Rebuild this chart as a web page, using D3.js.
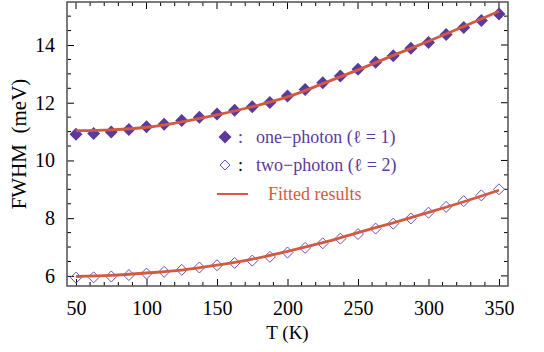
<!DOCTYPE html>
<html>
<head>
<meta charset="utf-8">
<script src="https://cdn.jsdelivr.net/npm/d3@7"></script>
<style>
  body { margin: 0; background: #fff; }
  svg text { font-family: "Liberation Serif", "Times New Roman", "DejaVu Serif", serif !important; }
</style>
</head>
<body>
<svg width="544" height="352"></svg>
<script>
// temperatures (K)
const temps = [50, 62.5, 75, 87.5, 100, 112.5, 125, 137.5, 150, 162.5, 175, 187.5, 200,
  212.5, 225, 237.5, 250, 262.5, 275, 287.5, 300, 312.5, 325, 337.5, 350]
// FWHM (meV)
const onePhoton = [10.91, 10.93, 10.99, 11.07, 11.17, 11.25, 11.38, 11.50, 11.61, 11.74, 11.86, 12.01, 12.23,
  12.46, 12.69, 12.93, 13.16, 13.40, 13.63, 13.89, 14.09, 14.36, 14.61, 14.85, 15.07]
const twoPhoton = [5.94, 5.95, 5.98, 6.03, 6.08, 6.14, 6.21, 6.29, 6.37, 6.45, 6.53, 6.66, 6.81,
  6.97, 7.13, 7.29, 7.45, 7.64, 7.81, 7.99, 8.19, 8.39, 8.59, 8.79, 9.00]
// fitted curves, read every 25 K
const fitTemps = [50, 75, 100, 125, 150, 175, 200, 225, 250, 275, 300, 325, 350]
const fitOne = [11.03, 11.06, 11.15, 11.34, 11.58, 11.86, 12.2, 12.66, 13.14, 13.64, 14.13, 14.64, 15.17]
const fitTwo = [5.98, 6.02, 6.1, 6.2, 6.37, 6.58, 6.85, 7.15, 7.5, 7.84, 8.2, 8.57, 8.97]

const xTicks = [50, 100, 150, 200, 250, 300, 350]
const yTicks = [6, 8, 10, 12, 14]

const width = 544
const height = 352
const margin = {top: 2, right: 36, bottom: 66, left: 67}

const purple = '#5b3a9c'
const openPurple = '#6a4cc4'
const fitColor = '#d45a3f'
const frameColor = '#5a5a5a'

const svg = d3.select('svg')

const x = d3.scaleLinear()
  .domain([43.6, 356.4])
  .range([margin.left, width - margin.right])

const y = d3.scaleLinear()
  .domain([5.65, 15.49])
  .range([height - margin.bottom, margin.top])

const x0 = margin.left, x1 = width - margin.right
const y0 = height - margin.bottom, y1 = margin.top

const minorX = d3.range(40, 360, 10).filter(t => t > 44 && t < 356 && t % 50 !== 0)
const minorY = d3.range(5.5, 15.6, 0.5).filter(v => v > 5.7 && v < 15.45 && v % 2 !== 0)

const majorLen = 7, minorLen = 4

// bottom axis (ticks inward)
svg.append('g')
  .attr('transform', `translate(0, ${y0})`)
  .call(d3.axisBottom(x).tickValues(xTicks).tickSizeInner(-majorLen).tickSizeOuter(0).tickPadding(15))
  .call(g => g.select('.domain').remove())
  .call(g => g.selectAll('line').attr('stroke', '#000').attr('stroke-width', 1))
  .call(g => g.selectAll('text').style('font-size', '20px').attr('fill', '#000'))

svg.append('g')
  .selectAll('line')
  .data(minorX)
  .join('line')
    .attr('x1', d => x(d)).attr('x2', d => x(d))
    .attr('y1', y0).attr('y2', y0 - minorLen)
    .attr('stroke', '#000')

// top axis
svg.append('g')
  .selectAll('line')
  .data(xTicks.map(t => [t, majorLen]).concat(minorX.map(t => [t, minorLen])))
  .join('line')
    .attr('x1', d => x(d[0])).attr('x2', d => x(d[0]))
    .attr('y1', y1).attr('y2', d => y1 + d[1])
    .attr('stroke', '#000')

// left axis
svg.append('g')
  .attr('transform', `translate(${x0}, 0)`)
  .call(d3.axisLeft(y).tickValues(yTicks).tickSizeInner(-majorLen).tickSizeOuter(0).tickPadding(12))
  .call(g => g.select('.domain').remove())
  .call(g => g.selectAll('line').attr('stroke', '#000'))
  .call(g => g.selectAll('text').style('font-size', '20px').attr('fill', '#000'))

svg.append('g')
  .selectAll('line')
  .data(minorY)
  .join('line')
    .attr('x1', x0).attr('x2', x0 + minorLen)
    .attr('y1', d => y(d)).attr('y2', d => y(d))
    .attr('stroke', '#000')

// right axis
svg.append('g')
  .selectAll('line')
  .data(yTicks.map(v => [v, majorLen]).concat(minorY.map(v => [v, minorLen])))
  .join('line')
    .attr('x1', x1).attr('x2', d => x1 - d[1])
    .attr('y1', d => y(d[0])).attr('y2', d => y(d[0]))
    .attr('stroke', '#000')

// frame
svg.append('rect')
  .attr('x', x0).attr('y', y1)
  .attr('width', x1 - x0).attr('height', y0 - y1)
  .attr('fill', 'none')
  .attr('stroke', frameColor)
  .attr('stroke-width', 1.6)

// axis titles
svg.append('text')
  .attr('x', (x0 + x1) / 2)
  .attr('y', 339)
  .attr('text-anchor', 'middle')
  .style('font-size', '19px')
  .text('T (K)')

svg.append('text')
  .attr('transform', `translate(26, ${(y0 + y1) / 2}) rotate(-90)`)
  .attr('text-anchor', 'middle')
  .style('font-size', '21px')
  .style('white-space', 'pre')
  .text('FWHM  (meV)')

const diamond = s => `M0,${-s}L${s},0L0,${s}L${-s},0Z`

// one-photon (filled)
svg.append('g')
  .selectAll('path')
  .data(temps.map((t, i) => [t, onePhoton[i]]))
  .join('path')
    .attr('transform', d => `translate(${x(d[0])}, ${y(d[1])})`)
    .attr('d', diamond(6.5))
    .attr('fill', purple)

// two-photon (open)
svg.append('g')
  .selectAll('path')
  .data(temps.map((t, i) => [t, twoPhoton[i]]))
  .join('path')
    .attr('transform', d => `translate(${x(d[0])}, ${y(d[1])})`)
    .attr('d', diamond(5.5))
    .attr('fill', 'none')
    .attr('stroke', openPurple)
    .attr('stroke-width', 1)

// fit curves
const line = d3.line()
  .x(d => x(d[0]))
  .y(d => y(d[1]))
  .curve(d3.curveMonotoneX)

;[fitOne, fitTwo].forEach(fit => {
  svg.append('path')
    .datum(fitTemps.map((t, i) => [t, fit[i]]))
    .attr('d', line)
    .attr('fill', 'none')
    .attr('stroke', fitColor)
    .attr('stroke-width', 2.8)
})

// legend
const legend = svg.append('g').style('font-size', '18px')

legend.append('path')
  .attr('transform', 'translate(225, 137)')
  .attr('d', diamond(6.5))
  .attr('fill', purple)
legend.append('text').attr('x', 238).attr('y', 143).attr('fill', purple).text(':')
legend.append('text').attr('x', 256).attr('y', 143).attr('fill', purple).text('one\u2212photon (\u2113 = 1)')

legend.append('path')
  .attr('transform', 'translate(225, 165)')
  .attr('d', diamond(5))
  .attr('fill', 'none')
  .attr('stroke', openPurple)
legend.append('text').attr('x', 238).attr('y', 171).attr('fill', '#000').text(':')
legend.append('text').attr('x', 256).attr('y', 171).attr('fill', purple).text('two\u2212photon (\u2113 = 2)')

legend.append('line')
  .attr('x1', 217).attr('x2', 248)
  .attr('y1', 194).attr('y2', 194)
  .attr('stroke', fitColor)
  .attr('stroke-width', 2)
legend.append('text').attr('x', 268).attr('y', 200).attr('fill', fitColor).text('Fitted results')
</script>
</body>
</html>
